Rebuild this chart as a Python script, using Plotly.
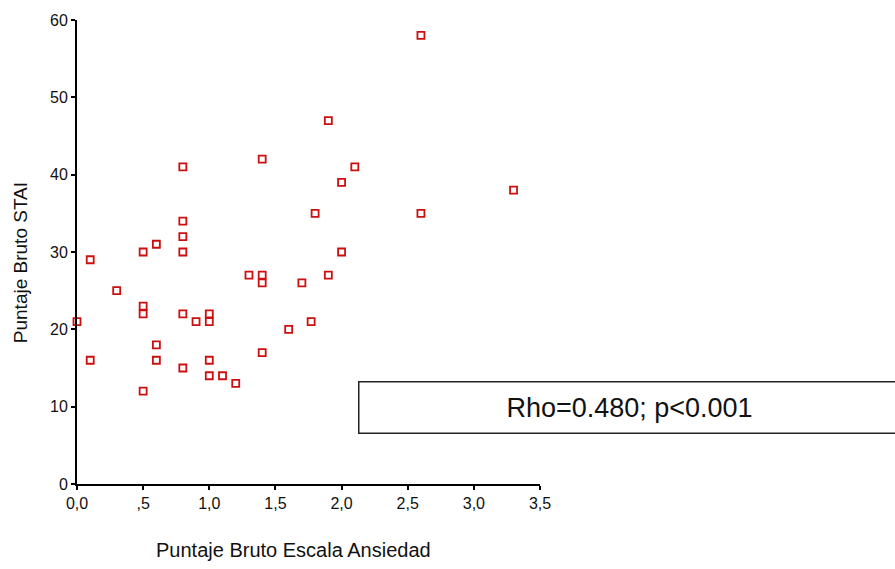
import plotly.graph_objects as go

# Data
anxiety = [0.0, 0.1, 0.1, 0.3, 0.5, 0.5, 0.5, 0.5, 0.6, 0.6, 0.6,
           0.8, 0.8, 0.8, 0.8, 0.8, 0.8, 0.9, 1.0, 1.0, 1.0, 1.0,
           1.1, 1.2, 1.3, 1.4, 1.4, 1.4, 1.4, 1.6, 1.7, 1.77, 1.8,
           1.9, 1.9, 2.0, 2.0, 2.1, 2.6, 2.6, 3.3]
stai = [21, 29, 16, 25, 30, 23, 22, 12, 31, 18, 16,
        41, 34, 32, 30, 22, 15, 21, 22, 21, 16, 14,
        14, 13, 27, 42, 27, 26, 17, 20, 26, 21, 35,
        47, 27, 39, 30, 41, 58, 35, 38]

x_tickvals = [0, 0.5, 1.0, 1.5, 2.0, 2.5, 3.0, 3.5]
x_ticktext = ["0,0", ",5", "1,0", "1,5", "2,0", "2,5", "3,0", "3,5"]
y_tickvals = [0, 10, 20, 30, 40, 50, 60]

x_title = "Puntaje Bruto Escala Ansiedad"
y_title = "Puntaje Bruto STAI"
stat_text = "Rho=0.480; p<0.001"

FONT = "Arial, 'Liberation Sans', sans-serif"

fig = go.Figure()
fig.add_trace(go.Scatter(
    x=anxiety, y=stai, mode="markers",
    marker=dict(symbol="square-open", size=7, color="#cc1010",
                line=dict(width=1.8, color="#cc1010")),
    cliponaxis=False, showlegend=False,
))

axis_common = dict(showline=True, linecolor="black", linewidth=2,
                   ticks="outside", ticklen=4, tickwidth=2, tickcolor="black",
                   showgrid=False, zeroline=False,
                   tickfont=dict(family=FONT, size=16, color="#111"))

fig.update_xaxes(range=[0, 3.5], tickvals=x_tickvals, ticktext=x_ticktext,
                 **axis_common)
fig.update_yaxes(range=[0, 60], tickvals=y_tickvals, **axis_common)

fig.add_annotation(xref="paper", yref="paper", x=0.467, y=-0.142,
                   text=x_title, showarrow=False, xanchor="center", yanchor="middle",
                   font=dict(family=FONT, size=20, color="#111"))
fig.add_annotation(xref="paper", yref="paper", x=-0.123, y=0.476,
                   text=y_title, showarrow=False, xanchor="center", yanchor="middle",
                   textangle=-90,
                   font=dict(family=FONT, size=19, color="#111"))
fig.add_annotation(xref="paper", yref="paper", x=0.607, y=0.1655,
                   text=stat_text, showarrow=False, xanchor="left", yanchor="middle",
                   width=540, height=50, align="center", valign="middle",
                   bordercolor="#222", borderwidth=1.5, borderpad=0,
                   bgcolor="white",
                   font=dict(family=FONT, size=27, color="#111"))

fig.update_layout(
    width=895, height=569,
    margin=dict(l=77, r=355, t=13, b=85),
    paper_bgcolor="white", plot_bgcolor="white",
)

fig.write_html("out.html")
